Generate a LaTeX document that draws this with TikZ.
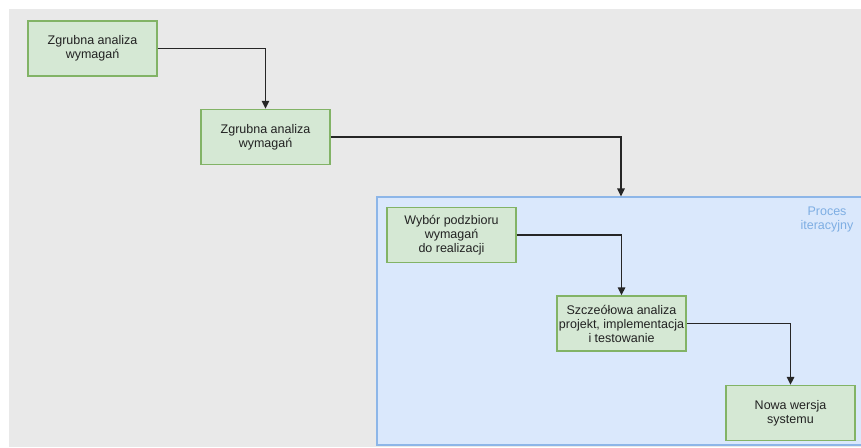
\documentclass[tikz,border=0pt]{standalone}
\usepackage{fontspec}
\setmainfont{Liberation Sans}
\usepackage{tikz}
\usetikzlibrary{positioning, arrows.meta}
\usepackage{xcolor}

\definecolor{canvasgray}{HTML}{E9E9E9}
\definecolor{iterfill}{HTML}{DAE8FC}
\definecolor{iterline}{HTML}{8DB6E8}
\definecolor{iterlabel}{HTML}{7EAEE3}
\definecolor{stepfill}{HTML}{D5E8D4}
\definecolor{stepline}{HTML}{82B366}
\definecolor{textdark}{HTML}{222222}

\begin{document}
\begin{tikzpicture}[
    x=1pt, y=-1pt,
    font=\fontsize{12.5}{14}\selectfont,
    stepbox/.style={draw=stepline, fill=stepfill, line width=1.4pt,
        minimum width=129pt, minimum height=55pt, align=center,
        text=textdark, inner sep=2pt},
    iterbox/.style={draw=iterline, fill=iterfill, line width=1.2pt,
        minimum width=488pt, minimum height=248pt},
    flow/.style={-{Triangle[length=8pt, width=7.5pt]}, line width=1.5pt, draw=black!85}
]
    \useasboundingbox (0,0) rectangle (861,447);
    \fill[white] (0,0) rectangle (861,447);
    \fill[canvasgray] (9,9) rectangle (861,447);

    % iterative part in a blue frame
    \node[iterbox] (iter) at (621,321) {};
    \node[text=iterlabel, align=center] (iterlbl) at (827,219) {Proces\\iteracyjny};

    % steps
    \node[stepbox] (b1) at (92.5,48.5) {Zgrubna analiza\\wymaga\'n};
    \node[stepbox] (b2) at (265.5,137) {Zgrubna analiza\\wymaga\'n};
    \node[stepbox] (b3) at (451.5,235) {Wybór podzbioru\\wymaga\'n\\do realizacji};
    \node[stepbox] (b4) at (621.5,323.5) {Szcze\'o\l owa analiza\\projekt, implementacja\\i testowanie};
    \node[stepbox] (b5) at (790.5,413) {Nowa wersja\\systemu};

    \draw[flow] (b1.east) -| (b2.north);
    \draw[flow] (b2.east) -| (iter.north);
    \draw[flow] (b3.east) -| (b4.north);
    \draw[flow] (b4.east) -| (b5.north);
\end{tikzpicture}
\end{document}
